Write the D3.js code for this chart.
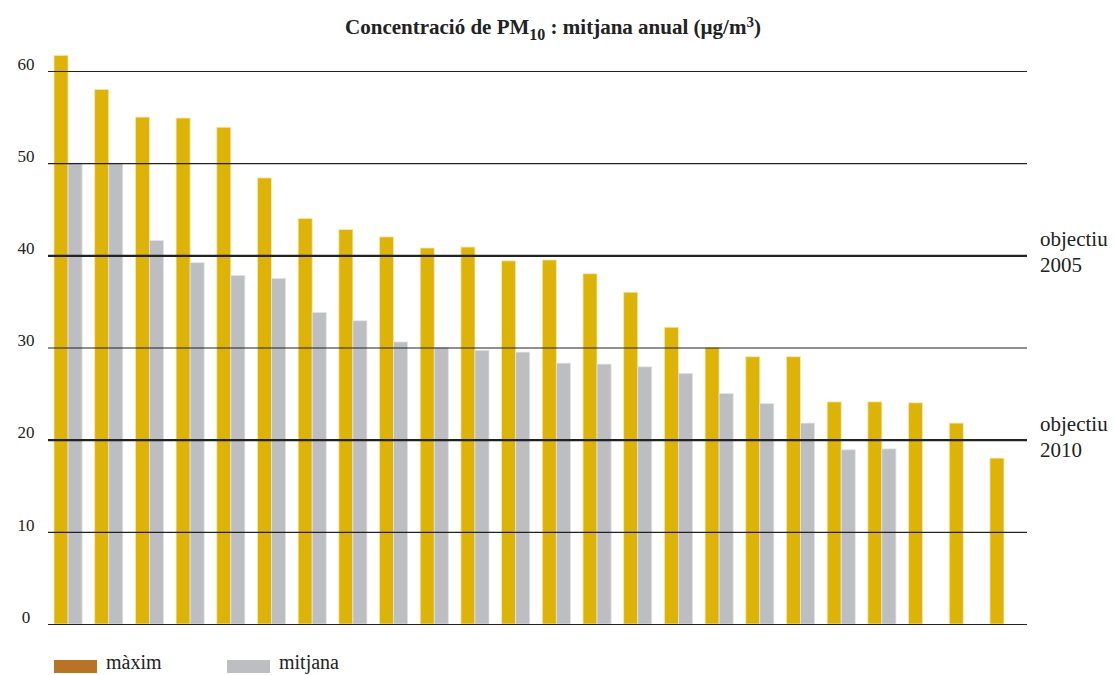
<!DOCTYPE html>
<html>
<head>
<meta charset="utf-8">
<script src="https://cdn.jsdelivr.net/npm/d3@7"></script>
<style>
  body { margin: 0; background: #fff; }
  svg text { font-family: "Liberation Serif", "DejaVu Serif", serif; fill: #222; }
</style>
</head>
<body>
<div id="chart"></div>
<script>
// station index (sorted by max value)
var stations = d3.range(1, 25).map(String);
var maxim = [61.7, 58.0, 55.0, 54.9, 53.9, 48.4, 44.0, 42.8, 42.0, 40.8, 40.9, 39.4,
             39.5, 38.0, 36.0, 32.2, 30.0, 29.0, 29.0, 24.1, 24.1, 24.0, 21.8, 18.0];
var mitjana = [50.0, 50.0, 41.6, 39.2, 37.8, 37.5, 33.8, 32.9, 30.6, 30.0, 29.7, 29.5,
               28.3, 28.2, 27.9, 27.2, 25.0, 23.9, 21.8, 18.9, 19.0, null, null, null];
var yTicks = [0, 10, 20, 30, 40, 50, 60];
var targets = [{value: 40, label: ["objectiu", "2005"]}, {value: 20, label: ["objectiu", "2010"]}];
var seriesNames = ["màxim", "mitjana"];

var width = 1114, height = 675;
var gold = "#DDB308", grey = "#BDBEC1", legendGold = "#B87424";
var serif = '"Liberation Serif", "DejaVu Serif", serif';

var svg = d3.select("#chart").append("svg")
    .attr("width", width)
    .attr("height", height);

// scales
var x = d3.scaleBand().domain(stations).range([54, 1018]).paddingInner(0.31).paddingOuter(0);
var x1 = d3.scaleBand().domain(seriesNames).range([0, x.bandwidth()]);
var y = d3.scaleLinear().domain([0, 60]).range([624, 71]);

// title
var title = svg.append("text")
    .attr("x", 553).attr("y", 34)
    .attr("text-anchor", "middle")
    .style("font-family", serif)
    .style("font-size", "21px")
    .style("font-weight", "bold");
title.append("tspan").text("Concentració de PM");
title.append("tspan").attr("dy", 6).style("font-size", "16px").text("10");
title.append("tspan").attr("dy", -6).text(" : mitjana anual (µg/m");
title.append("tspan").attr("dy", -7).style("font-size", "15px").text("3");
title.append("tspan").attr("dy", 7).text(")");

// rows for bars
var rows = stations.map(function(s, i) { return {station: s, max: maxim[i], avg: mitjana[i]}; });

var g = svg.append("g");
g.selectAll("rect.max")
    .data(rows)
  .enter().append("rect")
    .attr("class", "max")
    .attr("x", function(d) { return x(d.station) + x1("màxim"); })
    .attr("y", function(d) { return y(d.max); })
    .attr("width", x1.bandwidth())
    .attr("height", function(d) { return y(0) - y(d.max); })
    .attr("fill", gold)
    .attr("stroke", "#f4e9b8")
    .attr("stroke-width", 0.8);

g.selectAll("rect.avg")
    .data(rows.filter(function(d) { return d.avg != null; }))
  .enter().append("rect")
    .attr("class", "avg")
    .attr("x", function(d) { return x(d.station) + x1("mitjana"); })
    .attr("y", function(d) { return y(d.avg); })
    .attr("width", x1.bandwidth())
    .attr("height", function(d) { return y(0) - y(d.avg); })
    .attr("fill", grey)
    .attr("stroke", "#e2e2e4")
    .attr("stroke-width", 0.8);

// Y axis (gridlines over bars)
var yAxis = d3.axisLeft(y).tickValues(yTicks).tickSize(-(1027 - 48)).tickPadding(10);
var ax = svg.append("g")
    .attr("transform", "translate(48,0)")
    .attr("font-family", null)
    .call(yAxis);
ax.attr("font-family", serif);
ax.select(".domain").remove();
ax.selectAll(".tick line")
    .attr("stroke", "#222")
    .attr("stroke-width", function(d) { return (d === 40 || d === 20) ? 2.2 : 1.2; });
ax.selectAll(".tick text")
    .attr("x", -22)
    .attr("text-anchor", "middle")
    .attr("dy", "-0.1em")
    .style("font-family", serif)
    .style("font-size", "17px")
    .style("fill", "#222");

// target labels
targets.forEach(function(t) {
    var lbl = svg.append("text")
        .attr("x", 1040)
        .attr("y", y(t.value) - 9)
        .style("font-family", serif)
        .style("font-size", "21px");
    lbl.append("tspan").attr("x", 1040).text(t.label[0]);
    lbl.append("tspan").attr("x", 1040).attr("dy", 26).text(t.label[1]);
});

// legend
var legend = svg.append("g");
var legendItems = [{name: "màxim", color: legendGold, x: 54}, {name: "mitjana", color: grey, x: 227}];
legendItems.forEach(function(l) {
    legend.append("rect")
        .attr("x", l.x).attr("y", 660)
        .attr("width", 43).attr("height", 13)
        .attr("fill", l.color);
    legend.append("text")
        .attr("x", l.x + 52).attr("y", 669)
        .style("font-family", serif)
        .style("font-size", "20px")
        .text(l.name);
});
</script>
</body>
</html>
